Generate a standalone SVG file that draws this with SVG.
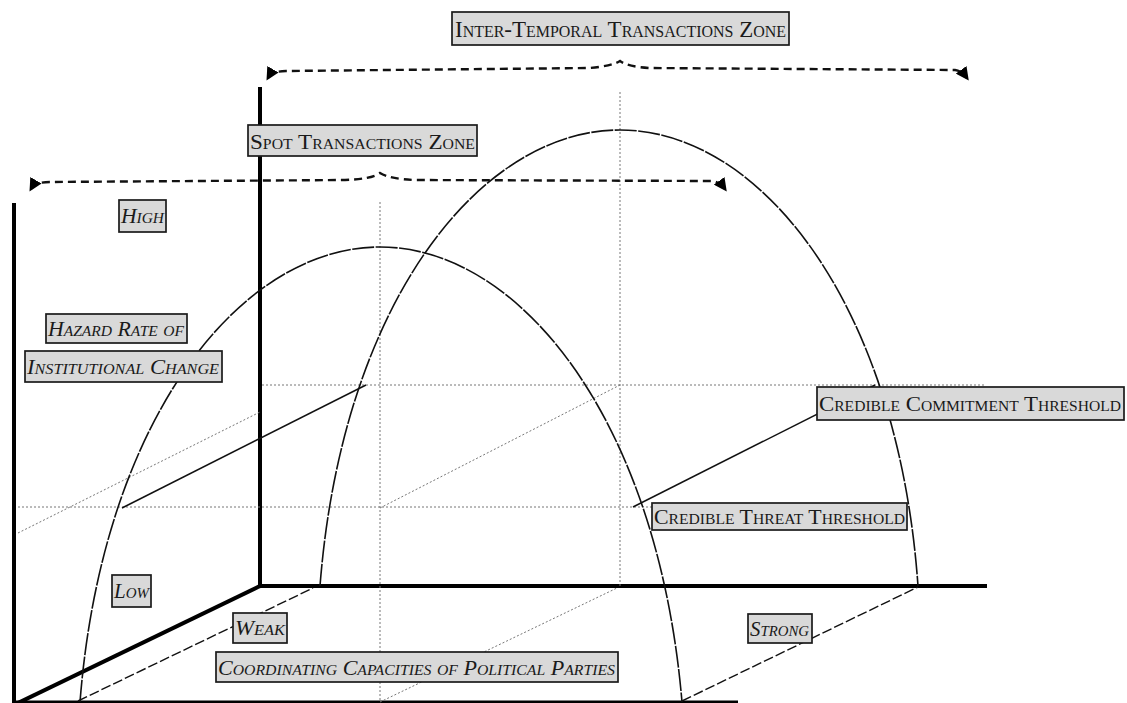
<svg xmlns="http://www.w3.org/2000/svg" width="1127" height="703" viewBox="0 0 1127 703">
<defs>
<style>
.box{fill:#d9d9d9;stroke:#1a1a1a;stroke-width:1.7}
.lbl{font-family:"Liberation Serif","Times New Roman",serif;font-variant:small-caps;fill:#1a1a1a}
.it{font-style:italic}
.axis{stroke:#000;stroke-width:4;fill:none;stroke-linecap:square}
.curve{stroke:#111;stroke-width:1.6;fill:none;stroke-dasharray:22 1.5}
.dot{stroke:#777;stroke-width:1;fill:none;stroke-dasharray:2 2}
.solid{stroke:#111;stroke-width:1.5;fill:none}
.dash{stroke:#111;stroke-width:1.4;fill:none;stroke-dasharray:10 3}
.arrow{stroke:#111;stroke-width:2.4;fill:none;stroke-dasharray:8 5}
</style>
<marker id="ah" markerWidth="13" markerHeight="13" refX="10" refY="6.5" orient="auto-start-reverse" markerUnits="userSpaceOnUse">
<path d="M0 0 L13 6.5 L0 13 Z" fill="#000"/>
</marker>
</defs>
<rect width="1127" height="703" fill="#fff"/>
<g id="connectors">
<line class="axis" x1="14" y1="205" x2="14" y2="703"/>
<line class="axis" x1="260" y1="89" x2="260" y2="586"/>
<line class="axis" x1="260" y1="586" x2="985" y2="586"/>
<line class="axis" x1="258" y1="587" x2="18" y2="703"/>
<line stroke="#000" stroke-width="3" x1="14" y1="702" x2="738" y2="702"/>
<line class="dot" x1="380" y1="202" x2="380" y2="702"/>
<line class="dot" x1="620" y1="92" x2="620" y2="586"/>
<line class="dot" x1="262" y1="385" x2="985" y2="385"/>
<line class="dot" x1="18" y1="507" x2="652" y2="507"/>
<line class="dot" x1="18" y1="533" x2="260" y2="412"/>
<line class="solid" x1="122" y1="508" x2="366" y2="385"/>
<line class="dot" x1="380" y1="508" x2="620" y2="385"/>
<line class="solid" x1="633" y1="507" x2="875" y2="385"/>
<line class="dash" x1="78" y1="701" x2="313" y2="588"/>
<line class="dot" x1="380" y1="702" x2="617" y2="588"/>
<line class="dash" x1="682" y1="701" x2="918" y2="587"/>
<path class="curve" d="M80 702 C102 420 240 247 380 247 C520 247 658 420 682 702"/>
<path class="curve" d="M320 586 C342 303 480 130 620 130 C760 130 898 303 918 586"/>
<path class="arrow" marker-start="url(#ah)" marker-end="url(#ah)" d="M268 78 Q272 71 286 71 L590 68 Q612 66 620 61 Q628 67 650 68 L955 70 Q962 71 967 78"/>
<path class="arrow" marker-start="url(#ah)" marker-end="url(#ah)" d="M31 189 Q35 182 50 182 L345 180 Q372 179 380 173 Q390 179 415 180 L712 181 Q720 182 725 189"/>
</g>
<g id="inter-temporal">
<rect class="box" x="452" y="12" width="337" height="33"/>
<text class="lbl" x="455" y="37" font-size="23" textLength="331" lengthAdjust="spacingAndGlyphs">Inter-Temporal Transactions Zone</text>
</g>
<g id="spot">
<rect class="box" x="248" y="125" width="229" height="31"/>
<text class="lbl" x="250" y="149" font-size="22" textLength="225" lengthAdjust="spacingAndGlyphs">Spot Transactions Zone</text>
</g>
<g id="high">
<rect class="box" x="119" y="200" width="47" height="32"/>
<text class="lbl it" x="121" y="223" font-size="21" textLength="43" lengthAdjust="spacingAndGlyphs">High</text>
</g>
<g id="hazard">
<rect class="box" x="46" y="314" width="141" height="29"/>
<text class="lbl it" x="48" y="336" font-size="21" textLength="136" lengthAdjust="spacingAndGlyphs">Hazard Rate of</text>
</g>
<g id="institutional">
<rect class="box" x="25" y="351" width="197" height="31"/>
<text class="lbl it" x="27" y="374" font-size="21" textLength="192" lengthAdjust="spacingAndGlyphs">Institutional Change</text>
</g>
<g id="low">
<rect class="box" x="112" y="575" width="39" height="32"/>
<text class="lbl it" x="114" y="598" font-size="21" textLength="35" lengthAdjust="spacingAndGlyphs">Low</text>
</g>
<g id="weak">
<rect class="box" x="233" y="613" width="54" height="30"/>
<text class="lbl it" x="235" y="635" font-size="21" textLength="50" lengthAdjust="spacingAndGlyphs">Weak</text>
</g>
<g id="coordinating">
<rect class="box" x="216" y="652" width="402" height="30"/>
<text class="lbl it" x="218" y="675" font-size="21" textLength="397" lengthAdjust="spacingAndGlyphs">Coordinating Capacities of Political Parties</text>
</g>
<g id="strong">
<rect class="box" x="748" y="614" width="64" height="29"/>
<text class="lbl it" x="750" y="636" font-size="21" textLength="59" lengthAdjust="spacingAndGlyphs">Strong</text>
</g>
<g id="commitment">
<rect class="box" x="817" y="387" width="307" height="33"/>
<text class="lbl" x="819" y="411" font-size="22" textLength="302" lengthAdjust="spacingAndGlyphs">Credible Commitment Threshold</text>
</g>
<g id="threat">
<rect class="box" x="652" y="503" width="255" height="27"/>
<text class="lbl" x="654" y="524" font-size="21" textLength="251" lengthAdjust="spacingAndGlyphs">Credible Threat Threshold</text>
</g>
</svg>
